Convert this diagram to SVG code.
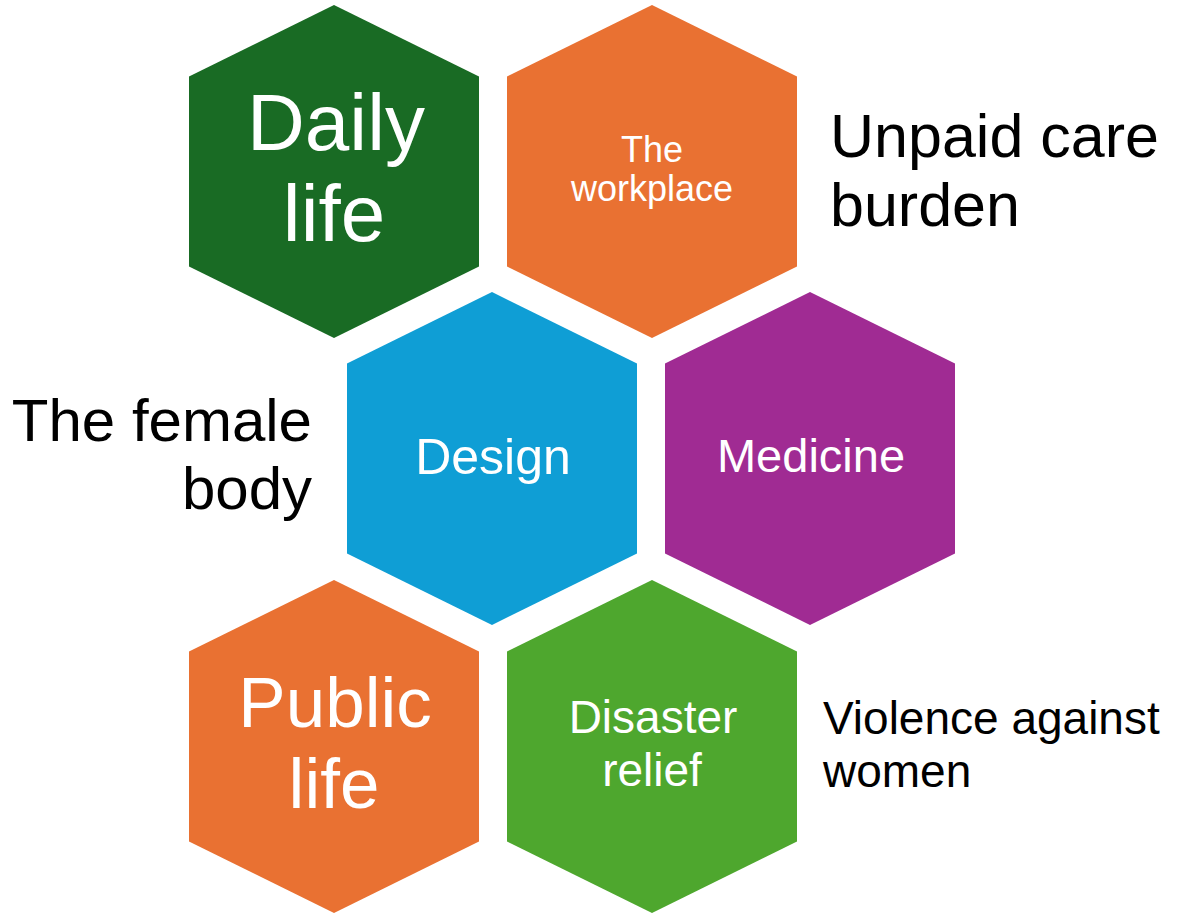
<svg xmlns="http://www.w3.org/2000/svg" width="1178" height="915" viewBox="0 0 1178 915">
<style>
.hex{stroke:none}
.in{font-family:"Liberation Sans",Arial,sans-serif;fill:#ffffff;text-anchor:middle}
.out{font-family:"Liberation Sans",Arial,sans-serif;fill:#000000}
</style>
<defs>
<polygon id="hx" points="0,-166.5 145,-95 145,95 0,166.5 -145,95 -145,-95"/>
</defs>
<rect width="1178" height="915" fill="#ffffff"/>
<g id="connectors"/>
<g id="daily-life">
<use href="#hx" x="334" y="171.5" fill="#196B24"/>
<text class="in" x="336" y="150" font-size="80">Daily</text>
<text class="in" x="334" y="241" font-size="80">life</text>
</g>
<g id="the-workplace">
<use href="#hx" x="652" y="171.5" fill="#E97132"/>
<text class="in" x="652" y="162" font-size="36">The</text>
<text class="in" x="652" y="201" font-size="36">workplace</text>
</g>
<g id="design">
<use href="#hx" x="492" y="458.5" fill="#0F9ED5"/>
<text class="in" x="493" y="474" font-size="50">Design</text>
</g>
<g id="medicine">
<use href="#hx" x="810" y="458.5" fill="#A02B93"/>
<text class="in" x="811" y="472" font-size="47">Medicine</text>
</g>
<g id="public-life">
<use href="#hx" x="334" y="746.5" fill="#E97132"/>
<text class="in" x="335" y="727" font-size="71">Public</text>
<text class="in" x="334" y="808" font-size="71">life</text>
</g>
<g id="disaster-relief">
<use href="#hx" x="652" y="746.5" fill="#4EA72E"/>
<text class="in" x="653" y="733" font-size="46">Disaster</text>
<text class="in" x="652" y="786" font-size="46">relief</text>
</g>
<g id="label-female-body">
<text class="out" x="312" y="441" font-size="60" text-anchor="end">The female</text>
<text class="out" x="312" y="509" font-size="60" text-anchor="end">body</text>
</g>
<g id="label-unpaid-care">
<text class="out" x="830" y="157" font-size="61">Unpaid care</text>
<text class="out" x="830" y="226" font-size="61">burden</text>
</g>
<g id="label-violence">
<text class="out" x="823" y="734" font-size="46">Violence against</text>
<text class="out" x="823" y="787" font-size="46">women</text>
</g>
</svg>
